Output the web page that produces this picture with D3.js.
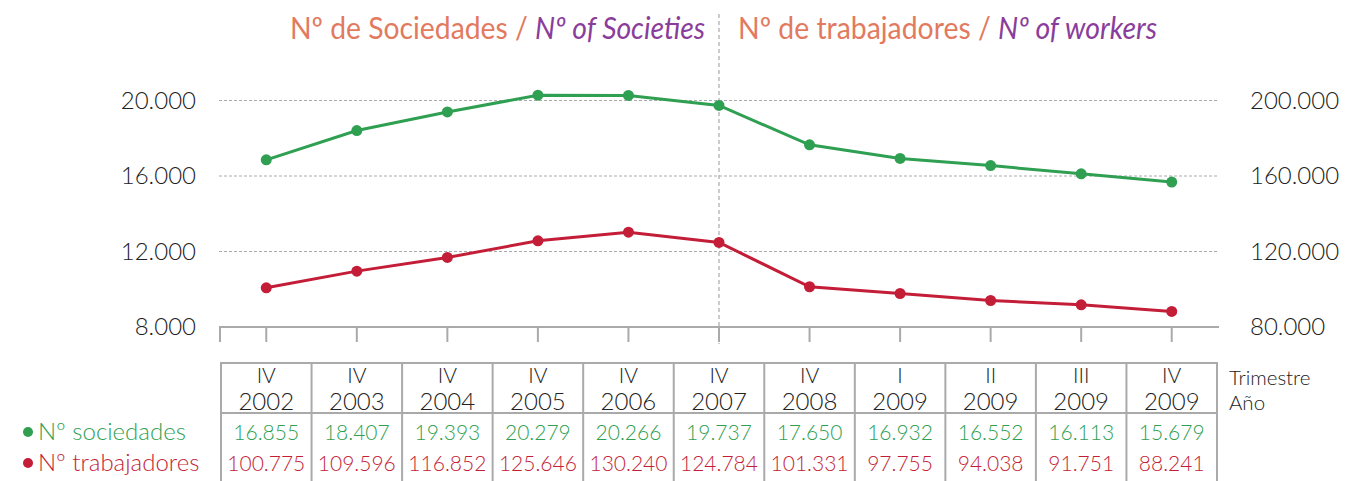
<!DOCTYPE html>
<html>
<head>
<meta charset="utf-8">
<script src="https://cdn.jsdelivr.net/npm/d3@7"></script>
<style>
  body { margin: 0; background: #fff; }
  svg { display: block; font-family: Lato, "Open Sans", sans-serif; }
</style>
</head>
<body>
<svg id="chart"></svg>
<script>
const width = 1347;
const height = 481;

const quarters = ["IV", "IV", "IV", "IV", "IV", "IV", "IV", "I", "II", "III", "IV"];
const years = ["2002", "2003", "2004", "2005", "2006", "2007", "2008", "2009", "2009", "2009", "2009"];
const sociedades = [16855, 18407, 19393, 20279, 20266, 19737, 17650, 16932, 16552, 16113, 15679];
const trabajadores = [100775, 109596, 116852, 125646, 130240, 124784, 101331, 97755, 94038, 91751, 88241];
const leftTicks = [8000, 12000, 16000, 20000];
const rightTicks = [80000, 120000, 160000, 200000];

const green = "#2f9f52";
const red = "#c41d38";
const salmon = "#e27a5f";
const purple = "#8a3d9b";
const grey = "#aaaaaa";
const ink = "#222222";

const fmt = (v) => d3.format(",")(v).replace(/,/g, ".");

const svg = d3.select("#chart").attr("width", width).attr("height", height);

const left = 221, right = 1217;
const x = d3.scaleBand().domain(d3.range(years.length)).range([left, right]);
const yL = d3.scaleLinear().domain([8000, 20000]).range([327, 100.5]);
const yR = d3.scaleLinear().domain([80000, 200000]).range([327, 100.5]);
const cx = (i) => x(i) + x.bandwidth() / 2;

// grid
svg.append("g")
  .selectAll("line")
  .data(leftTicks.slice(1))
  .enter()
  .append("line")
  .attr("x1", 219)
  .attr("x2", 1219)
  .attr("y1", (d) => yL(d))
  .attr("y2", (d) => yL(d))
  .attr("stroke", grey)
  .attr("stroke-width", 1)
  .attr("stroke-dasharray", "3,2");

// vertical dashed divider
svg.append("line")
  .attr("x1", cx(5)).attr("x2", cx(5))
  .attr("y1", 14).attr("y2", 344)
  .attr("stroke", grey)
  .attr("stroke-width", 1.2)
  .attr("stroke-dasharray", "4,3");

// baseline + ticks
svg.append("line")
  .attr("x1", 219).attr("x2", 1219)
  .attr("y1", yL(8000)).attr("y2", yL(8000))
  .attr("stroke", grey).attr("stroke-width", 2);

svg.append("g")
  .selectAll("line")
  .data([-1].concat(d3.range(years.length)))
  .enter()
  .append("line")
  .attr("x1", (d) => (d < 0 ? 220 : cx(d)))
  .attr("x2", (d) => (d < 0 ? 220 : cx(d)))
  .attr("y1", yL(8000))
  .attr("y2", yL(8000) + 15)
  .attr("stroke", grey)
  .attr("stroke-width", 2);

// axes labels
svg.append("g")
  .selectAll("text")
  .data(leftTicks)
  .enter()
  .append("text")
  .attr("x", 196)
  .attr("y", (d) => yL(d) + 8)
  .attr("text-anchor", "end")
  .attr("font-size", 24)
  .attr("font-weight", 300)
  .attr("fill", ink)
  .text(fmt);

svg.append("g")
  .selectAll("text")
  .data(rightTicks)
  .enter()
  .append("text")
  .attr("x", 1250)
  .attr("y", (d) => yR(d) + 8)
  .attr("font-size", 24)
  .attr("font-weight", 300)
  .attr("fill", ink)
  .text(fmt);

// lines
const lineL = d3.line().x((d, i) => cx(i)).y((d) => yL(d));
const lineR = d3.line().x((d, i) => cx(i)).y((d) => yR(d));

svg.append("path").datum(sociedades)
  .attr("d", lineL).attr("fill", "none")
  .attr("stroke", green).attr("stroke-width", 3);
svg.append("path").datum(trabajadores)
  .attr("d", lineR).attr("fill", "none")
  .attr("stroke", red).attr("stroke-width", 3);

svg.append("g").selectAll("circle").data(sociedades).enter()
  .append("circle")
  .attr("cx", (d, i) => cx(i)).attr("cy", (d) => yL(d))
  .attr("r", 5.5).attr("fill", green);
svg.append("g").selectAll("circle").data(trabajadores).enter()
  .append("circle")
  .attr("cx", (d, i) => cx(i)).attr("cy", (d) => yR(d))
  .attr("r", 5.5).attr("fill", red);

// titles
const t1 = svg.append("text").attr("x", 290).attr("y", 39)
  .attr("font-size", 30)
  .attr("textLength", 415).attr("lengthAdjust", "spacingAndGlyphs");
t1.append("tspan").attr("fill", salmon).text("Nº de Sociedades / ");
t1.append("tspan").attr("fill", purple).attr("font-style", "italic").text("Nº of Societies");

const t2 = svg.append("text").attr("x", 738).attr("y", 39)
  .attr("font-size", 30)
  .attr("textLength", 419).attr("lengthAdjust", "spacingAndGlyphs");
t2.append("tspan").attr("fill", salmon).text("Nº de trabajadores / ");
t2.append("tspan").attr("fill", purple).attr("font-style", "italic").text("Nº of workers");

// table
const tableTop = 363, headSep = 413;
const tbl = svg.append("g");
tbl.append("line").attr("x1", left).attr("x2", right)
  .attr("y1", tableTop).attr("y2", tableTop)
  .attr("stroke", grey).attr("stroke-width", 2);
tbl.append("line").attr("x1", left).attr("x2", right)
  .attr("y1", headSep).attr("y2", headSep)
  .attr("stroke", grey).attr("stroke-width", 2);
tbl.selectAll(".vline")
  .data(d3.range(years.length + 1))
  .enter()
  .append("line")
  .attr("class", "vline")
  .attr("x1", (d) => (d < years.length ? x(d) : right))
  .attr("x2", (d) => (d < years.length ? x(d) : right))
  .attr("y1", tableTop - 1)
  .attr("y2", height)
  .attr("stroke", grey)
  .attr("stroke-width", 2);

tbl.selectAll(".q").data(quarters).enter().append("text")
  .attr("x", (d, i) => cx(i)).attr("y", 383)
  .attr("text-anchor", "middle").attr("font-size", 21).attr("font-weight", 300)
  .attr("fill", ink).text((d) => d);
tbl.selectAll(".yr").data(years).enter().append("text")
  .attr("x", (d, i) => cx(i)).attr("y", 410)
  .attr("text-anchor", "middle").attr("font-size", 24).attr("font-weight", 300)
  .attr("fill", ink).text((d) => d);
tbl.selectAll(".vs").data(sociedades).enter().append("text")
  .attr("x", (d, i) => cx(i)).attr("y", 440)
  .attr("text-anchor", "middle").attr("font-size", 21).attr("font-weight", 300)
  .attr("fill", green).text(fmt);
tbl.selectAll(".vt").data(trabajadores).enter().append("text")
  .attr("x", (d, i) => cx(i)).attr("y", 471)
  .attr("text-anchor", "middle").attr("font-size", 21).attr("font-weight", 300)
  .attr("fill", red).text(fmt);

svg.append("text").attr("x", 1229).attr("y", 385)
  .attr("font-size", 20.5).attr("font-weight", 300).attr("fill", ink).text("Trimestre");
svg.append("text").attr("x", 1229).attr("y", 410)
  .attr("font-size", 20.5).attr("font-weight", 300).attr("fill", ink).text("Año");

// legend
const legend = [
  { label: "Nº sociedades", color: green, y: 440 },
  { label: "Nº trabajadores", color: red, y: 471 }
];
const lg = svg.append("g").selectAll("g").data(legend).enter().append("g");
lg.append("circle").attr("cx", 28).attr("cy", (d) => d.y - 8).attr("r", 5).attr("fill", (d) => d.color);
lg.append("text").attr("x", 38).attr("y", (d) => d.y)
  .attr("font-size", 24).attr("font-weight", 300)
  .attr("fill", (d) => d.color).text((d) => d.label);
</script>
</body>
</html>
